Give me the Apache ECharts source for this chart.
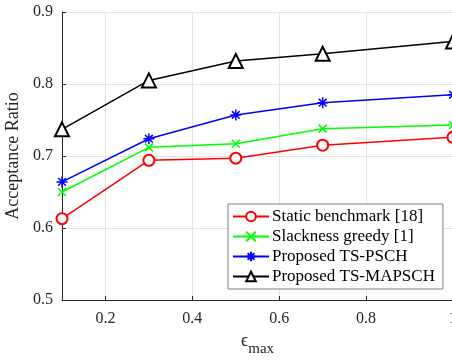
<!DOCTYPE html>
<html>
<head>
<meta charset="utf-8">
<script src="https://cdn.jsdelivr.net/npm/echarts@6/dist/echarts.min.js"></script>
<style>
  html, body { margin: 0; padding: 0; background: #fff; }
  #main { width: 452px; height: 364px; }
</style>
</head>
<body>
<div id="main"></div>
<script>
// epsilon_max values on the x axis
var epsMax = [0.1, 0.3, 0.5, 0.7, 1.0];
var staticBench = [0.613, 0.694, 0.697, 0.715, 0.726];
var slackGreedy = [0.650, 0.712, 0.717, 0.738, 0.743];
var tsPSCH = [0.664, 0.724, 0.757, 0.774, 0.785];
var tsMAPSCH = [0.737, 0.805, 0.832, 0.842, 0.859];
var seriesNames = ['Static benchmark [18]', 'Slackness greedy [1]', 'Proposed TS-PSCH', 'Proposed TS-MAPSCH'];
var xTicks = [0.2, 0.4, 0.6, 0.8, 1];

var serif = '"Liberation Serif", "Times New Roman", serif';
var txt = '#262626';

function pairs(ys) {
  return epsMax.map(function (x, i) { return [x, ys[i]]; });
}

var crossPath = 'path://M0,0L10,10M10,0L0,10';
var starPath = 'path://M5,0L5,10M0,5L10,5M1.5,1.5L8.5,8.5M1.5,8.5L8.5,1.5';

function mk(name, ys, color, symbol, size) {
  return {
    name: name,
    type: 'line',
    data: pairs(ys),
    symbol: symbol,
    symbolSize: size,
    symbolKeepAspect: true,
    showAllSymbol: true,
    lineStyle: { color: color, width: 1.5 },
    itemStyle: { color: symbol.indexOf('path') === 0 ? 'none' : color, borderColor: color, borderWidth: 1.5 },
    emphasis: { disabled: true },
    animation: false
  };
}

var chart = echarts.init(document.getElementById('main'));
var option = {
  backgroundColor: '#fff',
  animation: false,
  grid: { left: 62, right: -1, top: 12, bottom: 64, outerBoundsMode: 'none', containLabel: false },
  xAxis: {
    type: 'value',
    min: 0.1,
    max: 1,
    name: '{e|ϵ}{s|max}',
    nameLocation: 'middle',
    nameGap: 28,
    nameTextStyle: {
      rich: {
        e: { fontFamily: serif, fontSize: 18, color: txt, padding: [0, 0, 6, 0] },
        s: { fontFamily: serif, fontSize: 15, color: txt, padding: [10, 0, 0, 0] }
      }
    },
    axisLine: { lineStyle: { color: txt, width: 1 } },
    axisTick: { inside: true, length: 4, customValues: xTicks, lineStyle: { color: txt } },
    axisLabel: { customValues: xTicks, fontFamily: serif, fontSize: 16, color: txt, margin: 11 },
    splitLine: { show: true, lineStyle: { color: '#e3e3e3', width: 1 } }
  },
  yAxis: {
    type: 'value',
    min: 0.5,
    max: 0.9,
    interval: 0.1,
    name: 'Acceptance Ratio',
    nameLocation: 'middle',
    nameGap: 33,
    nameTextStyle: { fontFamily: serif, fontSize: 18, color: txt },
    axisLine: { show: true, lineStyle: { color: txt, width: 1 } },
    axisTick: { show: true, inside: true, length: 4, lineStyle: { color: txt } },
    axisLabel: { fontFamily: serif, fontSize: 16, color: txt, margin: 9,
      formatter: function (v) { return v.toFixed(1); } },
    splitLine: { show: true, lineStyle: { color: '#e3e3e3', width: 1 } }
  },
  legend: {
    orient: 'vertical',
    left: 228,
    top: 204,
    width: 214,
    padding: [4, 8, 4, 4],
    itemGap: 3,
    itemWidth: 36,
    itemHeight: 12,
    backgroundColor: '#fff',
    borderColor: '#7f7f7f',
    borderWidth: 1,
    textStyle: { fontFamily: serif, fontSize: 17, color: '#000', padding: [0, 0, 0, -2] },
    data: seriesNames
  },
  series: [
    mk(seriesNames[0], staticBench, '#ff0000', 'emptyCircle', 11),
    mk(seriesNames[1], slackGreedy, '#00ff00', crossPath, 8),
    mk(seriesNames[2], tsPSCH, '#0000ff', starPath, 11),
    mk(seriesNames[3], tsMAPSCH, '#000000', 'emptyTriangle', 14)
  ]
};
chart.setOption(option);
</script>
</body>
</html>
